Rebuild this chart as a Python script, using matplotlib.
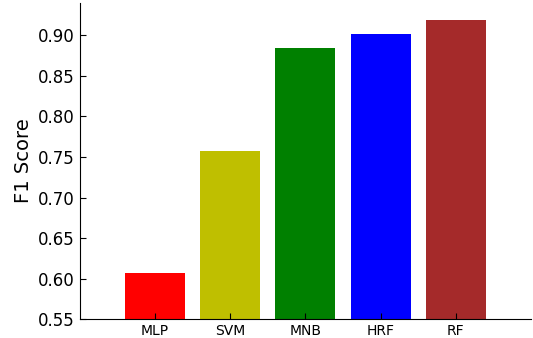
from matplotlib import pyplot as plt

models = ['MLP', 'SVM', 'MNB', 'HRF', 'RF']
f1_scores = [0.607, 0.757, 0.884, 0.902, 0.919]
bar_colors = ['red', 'y', 'green', 'blue', 'brown']

fig = plt.figure(figsize=(5.33, 3.38), dpi=100)
ax = fig.add_axes([0.150, 0.056, 0.846, 0.935])

pos = list(range(len(models)))
ax.bar(pos, f1_scores, width=0.8, color=bar_colors, linewidth=0)

ax.set_xlim(-1, 5)
ax.set_ylim(0.55, 0.94)
ax.set_xticks(pos)
ax.set_xticklabels(models, fontsize=10)
ax.set_yticks([0.55, 0.60, 0.65, 0.70, 0.75, 0.80, 0.85, 0.90])
ax.tick_params(axis='y', labelsize=12, direction='in', length=4)
ax.tick_params(axis='x', direction='in', length=4)
ax.set_ylabel('F1 Score', fontsize=14)

ax.spines['top'].set_visible(False)
ax.spines['right'].set_visible(False)

plt.savefig('out.png')
